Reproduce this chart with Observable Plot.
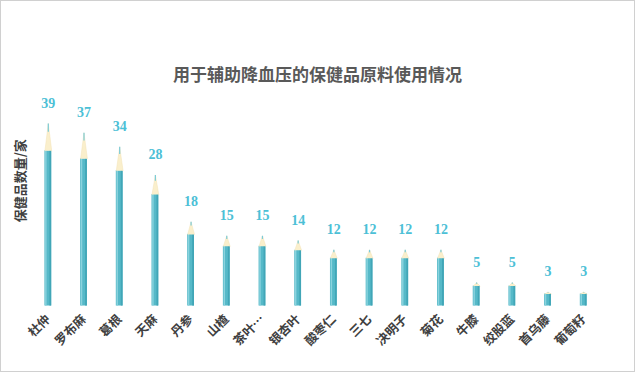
<!DOCTYPE html>
<html><head><meta charset="utf-8">
<script src="https://cdn.jsdelivr.net/npm/d3@7"></script>
<script src="https://cdn.jsdelivr.net/npm/@observablehq/plot@0.6"></script>
<style>
body{margin:0;background:#fff;}
#wrap{position:relative;width:633px;height:370px;border:1px solid #d0d0d0;overflow:hidden;}
#title{position:absolute;left:0;top:60px;width:633px;text-align:center;font-family:"Noto Sans CJK SC",sans-serif;font-weight:bold;font-size:17px;color:#595959;}
#chart{position:absolute;left:-1px;top:-1px;}
</style></head>
<body>
<div id="wrap"><div id="title">用于辅助降血压的保健品原料使用情况</div><div id="chart"></div></div>
<script>
const categories = ["杜仲","罗布麻","葛根","天麻","丹参","山楂","茶叶…","银杏叶","酸枣仁","三七","决明子","菊花","牛膝","绞股蓝","首乌藤","葡萄籽"];
const values = [39,37,34,28,18,15,15,14,12,12,12,12,5,5,3,3];
const yLabel = "保健品数量/家";

const data = categories.map((c,i)=>({i, c, v: values[i]}));
const hw = 0.095, tipFrac = 0.85;
const tips = data.flatMap(d=>[
  {i:d.i, x:d.i-hw, y:d.v*tipFrac},
  {i:d.i, x:d.i, y:d.v},
  {i:d.i, x:d.i+hw, y:d.v*tipFrac}
]);

const plot = Plot.plot({
  width: 635, height: 372,
  marginTop: 95, marginBottom: 66, marginLeft: 30, marginRight: 33,
  x: {type:"linear", domain:[-0.5, 15.5], axis:null},
  y: {domain:[0,45], axis:null},
  style: {fontFamily: "'Noto Sans CJK SC', sans-serif"},
  marks: [
    Plot.rectY(data, {x1: d=>d.i-hw, x2: d=>d.i+hw, y1: 0, y2: d=>d.v*tipFrac, fill:"#56b9c8"}),
    Plot.rectY(data, {x1: d=>d.i-hw+0.02, x2: d=>d.i-hw+0.06, y1: 0, y2: d=>d.v*tipFrac, fill:"#8ad3de"}),
    Plot.rectY(data, {x1: d=>d.i+hw-0.05, x2: d=>d.i+hw, y1: 0, y2: d=>d.v*tipFrac, fill:"#41a6b7"}),
    Plot.line(tips, {x:"x", y:"y", z:"i", fill:"#faefcc", stroke:"#f2e3b6", strokeWidth:0.5}),
    Plot.link(data, {x1:"i", x2:"i", y1: d=>d.v*0.955, y2: d=>d.v, stroke:"#7ccbd8", strokeWidth:1.2}),
    Plot.text(data, {x:"i", y:"v", text: d=>String(d.v), dy:-20, fill:"#4cc0d6", fontSize:14, fontWeight:"bold", fontFamily:"'Liberation Serif', 'Times New Roman', serif"}),
    Plot.axisX({ticks: d3.range(16), tickFormat: i=>categories[i], tickSize:0, tickRotate:-45, tickPadding:11, fontSize:12.5, fontWeight:"bold", fill:"#404040", label:null}),
    Plot.text([yLabel], {frameAnchor:"left", textAnchor:"middle", rotate:-90, dx:-10, dy:-20, fontSize:13, fontWeight:"bold", fill:"#404040"})
  ]
});
document.getElementById("chart").appendChild(plot);
</script>
</body></html>
